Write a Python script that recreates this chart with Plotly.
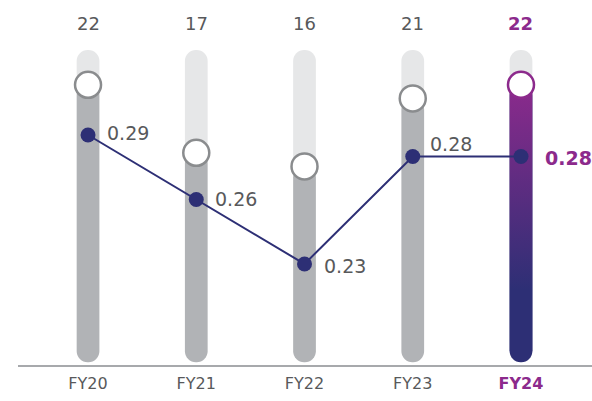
import plotly.graph_objects as go

years = ['FY20', 'FY21', 'FY22', 'FY23', 'FY24']
counts = [22, 17, 16, 21, 22]
ratios = [0.29, 0.26, 0.23, 0.28, 0.28]

GREY_TXT = '#58595b'
LIGHT = '#e6e7e8'
DARK = '#b1b3b6'
RING = '#8a8c8e'
NAVY = '#2d2f75'
PURPLE = '#8c2a8c'

BAR_TOP = 24.55
BAR_BOTTOM = 1.6
W = 0.21

xs = list(range(len(years)))
last = len(years) - 1

fig = go.Figure()

# light track above the marker
fig.add_trace(go.Bar(x=xs, y=[BAR_TOP - c for c in counts], base=counts, width=W,
                     marker=dict(color=LIGHT, cornerradius='50%', line_width=0),
                     hoverinfo='skip'))
# filled part below the marker
fig.add_trace(go.Bar(x=xs, y=[BAR_BOTTOM - c for c in counts], base=counts, width=W,
                     marker=dict(color=[DARK] * last + [NAVY], cornerradius='50%', line_width=0),
                     hoverinfo='skip'))
# gradient on the latest year
gx = [last - W / 2, last + W / 2, last + W / 2, last - W / 2, last - W / 2]
gy = [counts[last], counts[last], 2.4, 2.4, counts[last]]
fig.add_trace(go.Scatter(x=gx, y=gy, fill='toself', mode='lines', line=dict(width=0),
                         fillgradient=dict(type='vertical',
                                           colorscale=[[0, NAVY], [0.23, NAVY], [1, PURPLE]]),
                         hoverinfo='skip'))
# ring markers
fig.add_trace(go.Scatter(x=xs, y=counts, mode='markers',
                         marker=dict(size=26, color='white',
                                     line=dict(width=2.5, color=[RING] * last + [PURPLE])),
                         hoverinfo='skip'))
# ratio line
fig.add_trace(go.Scatter(x=xs, y=ratios, yaxis='y2', mode='lines+markers',
                         line=dict(color=NAVY, width=2),
                         marker=dict(size=15, color=NAVY), hoverinfo='skip'))

for i, c in enumerate(counts):
    bold = i == last
    fig.add_annotation(x=i, y=0.935, yref='paper', yanchor='middle', showarrow=False,
                       text=f'<b>{c}</b>' if bold else str(c),
                       font=dict(size=18, color=PURPLE if bold else GREY_TXT))

offsets = [(0, 2), (0, 0), (0, -2), (-2, 12), (0, -2)]
for i, r in enumerate(ratios):
    bold = i == last
    dx, dy = offsets[i]
    fig.add_annotation(x=i, y=r, yref='y2', yanchor='middle', showarrow=False, xanchor='left',
                       xshift=(22 if bold else 17) + dx, yshift=dy,
                       text=f'<b>{r:.2f}</b>' if bold else f'{r:.2f}',
                       font=dict(size=19, color=PURPLE if bold else GREY_TXT))

ticktext = [y if i < last else f"<b><span style='color:{PURPLE}'>{y}</span></b>"
            for i, y in enumerate(years)]

fig.update_layout(
    width=592, height=401,
    margin=dict(l=18, r=0, t=0, b=36),
    paper_bgcolor='white', plot_bgcolor='white',
    barmode='overlay', showlegend=False,
    font=dict(family='DejaVu Sans', color=GREY_TXT),
    xaxis=dict(range=[-0.647, 4.656], tickvals=xs, ticktext=ticktext,
               showgrid=False, zeroline=False, showline=True, linecolor='#a7a9ac',
               linewidth=1.5, ticks='', ticklabelstandoff=3,
               tickfont=dict(size=16, color=GREY_TXT)),
    yaxis=dict(range=[1.397, 28.235], visible=False, showgrid=False),
    yaxis2=dict(range=[0.183, 0.3528], overlaying='y', visible=False, showgrid=False),
)

fig.write_html("out.html", config={'displayModeBar': False},
               post_script="document.body.style.margin='0';")
